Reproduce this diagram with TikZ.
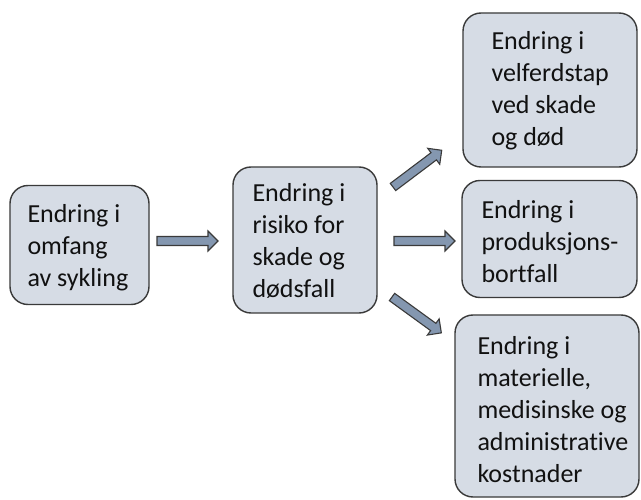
\documentclass[tikz,border=0pt]{standalone}
\usepackage{fontspec}
\setmainfont[Ligatures=NoCommon]{Carlito}
\definecolor{boxfill}{HTML}{D6DCE5}
\definecolor{boxline}{HTML}{3A3A3A}
\definecolor{arrfill}{HTML}{8497B0}
\definecolor{txt}{HTML}{111111}
\begin{document}
\begin{tikzpicture}[x=1pt,y=-1pt,
  boxshape/.style={draw=boxline, line width=1.4pt, fill=boxfill, rounded corners=18pt, rectangle, inner sep=0pt},
  boxtext/.style={anchor=west, align=left, inner sep=0pt, text=txt, font=\fontsize{26}{32}\selectfont},
  blockarr/.style={draw=boxline, line width=1.1pt, fill=arrfill, line join=miter}]
\useasboundingbox (0,0) rectangle (641,500);
\fill[white] (0,0) rectangle (641,500);
% boxes (centre, width, height)
\node[boxshape, minimum width=139pt, minimum height=119pt] (b1) at (79.5,245) {};
\node[boxshape, minimum width=144pt, minimum height=146pt] (b2) at (305,240) {};
\node[boxshape, minimum width=174pt, minimum height=154pt] (b3) at (550,90) {};
\node[boxshape, minimum width=175pt, minimum height=117pt] (b4) at (549.5,239) {};
\node[boxshape, minimum width=184pt, minimum height=182pt] (b5) at (547,406) {};
% texts
\node[boxtext] (t1) at ([xshift=18pt,yshift=-3pt]b1.west) {Endring i\\omfang\\av sykling};
\node[boxtext] (t2) at ([xshift=20pt,yshift=-1pt]b2.west) {Endring i\\risiko for\\skade og\\dødsfall};
\node[boxtext] (t3) at ([xshift=29pt,yshift=-1pt]b3.west) {Endring i\\velferdstap\\ved skade\\og død};
\node[boxtext] (t4) at ([xshift=20pt,yshift=-3pt]b4.west) {Endring i\\produksjons-\\bortfall};
\node[boxtext] (t5) at ([xshift=23pt,yshift=-4pt]b5.west) {Endring i\\materielle,\\medisinske og\\administrative\\kostnader};
% block arrows: tail centre coordinates
\coordinate (a1) at (157,241);
\coordinate (a2) at (394,241);
\coordinate (a3) at (393,187);
\coordinate (a4) at (392,297);
\foreach \c/\r in {a1/0, a2/0, a3/37, a4/-36}{
  \begin{scope}[shift={(\c)}, rotate=\r]
    \draw[blockarr] (0,-4.5) -- (51,-4.5) -- (51,-10) -- (61,0) -- (51,10) -- (51,4.5) -- (0,4.5) -- cycle;
  \end{scope}
}
\end{tikzpicture}
\end{document}
